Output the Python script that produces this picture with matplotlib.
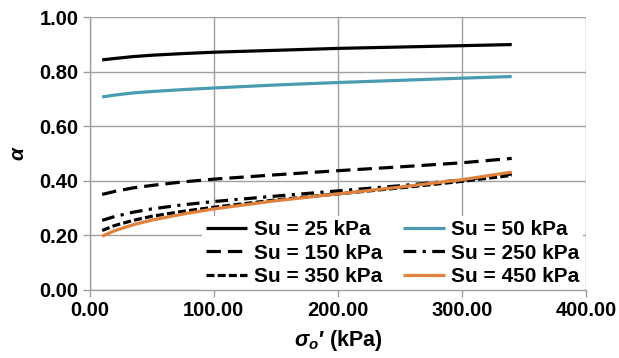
import matplotlib
matplotlib.use("Agg")
import matplotlib.pyplot as plt

plt.rcParams['font.family'] = ['Liberation Sans', 'DejaVu Sans']
plt.rcParams['font.weight'] = 'bold'
plt.rcParams['mathtext.fontset'] = 'custom'
plt.rcParams['mathtext.it'] = 'Liberation Sans:italic:bold'
plt.rcParams['mathtext.rm'] = 'Liberation Sans:bold'

x = [10, 20, 35, 50, 75, 100, 150, 200, 250, 300, 340]
su25 = [0.843, 0.848, 0.855, 0.860, 0.866, 0.871, 0.878, 0.885, 0.890, 0.895, 0.899]
su50 = [0.707, 0.714, 0.722, 0.727, 0.734, 0.740, 0.751, 0.760, 0.768, 0.776, 0.782]
su150 = [0.350, 0.361, 0.374, 0.383, 0.396, 0.406, 0.422, 0.437, 0.451, 0.466, 0.482]
su250 = [0.255, 0.269, 0.285, 0.297, 0.312, 0.324, 0.344, 0.363, 0.382, 0.403, 0.425]
su350 = [0.218, 0.236, 0.255, 0.270, 0.288, 0.303, 0.330, 0.352, 0.374, 0.398, 0.420]
su450 = [0.197, 0.217, 0.239, 0.256, 0.278, 0.297, 0.327, 0.352, 0.377, 0.404, 0.432]
labels = ['Su = 25 kPa', 'Su = 50 kPa', 'Su = 150 kPa', 'Su = 250 kPa', 'Su = 350 kPa', 'Su = 450 kPa']
xticks = [0, 100, 200, 300, 400]
yticks = [0.0, 0.2, 0.4, 0.6, 0.8, 1.0]

fig = plt.figure(figsize=(6.19, 3.58), dpi=100)
ax = fig.add_axes([0.145, 0.19, 0.802, 0.7625])

lw = 2.3
h25, = ax.plot(x, su25, color='black', lw=lw, label=labels[0], solid_capstyle='butt')
h50, = ax.plot(x, su50, color='#4a9bb2', lw=lw, label=labels[1], solid_capstyle='butt')
h150, = ax.plot(x, su150, color='black', lw=lw, ls=(0, (4.5, 2.2)), label=labels[2])
h250, = ax.plot(x, su250, color='black', lw=lw, ls=(0, (4, 2, 1, 2)), label=labels[3])
h350, = ax.plot(x, su350, color='black', lw=lw, ls=(0, (2.5, 1.0)), label=labels[4])
h450, = ax.plot(x, su450, color='#e0823d', lw=lw, label=labels[5], solid_capstyle='butt')

ax.set_xlim(0, 400)
ax.set_ylim(0, 1.0)
ax.set_xticks(xticks)
ax.set_yticks(yticks)
ax.set_xticklabels([f'{v:.2f}' for v in xticks])
ax.set_yticklabels([f'{v:.2f}' for v in yticks])
ax.tick_params(axis='both', labelsize=14.5, direction='out', length=5, color='#a0a0a0', width=1, pad=3)
ax.grid(True, color='#a0a0a0', lw=1)
ax.set_axisbelow(True)
for s in ['top', 'right']:
    ax.spines[s].set_visible(False)
for s in ['left', 'bottom']:
    ax.spines[s].set_color('#a0a0a0')
    ax.spines[s].set_linewidth(1)
    ax.spines[s].set_zorder(10)

ax.set_ylabel(r'$\alpha$', fontsize=15, labelpad=8)
ax.set_xlabel(r'$\sigma_o$' + '′ (kPa)', fontsize=15.5, fontweight='bold', labelpad=6)

hs = [h25, h150, h350, h50, h250, h450]
leg = ax.legend(hs, [h.get_label() for h in hs], loc='lower right', ncol=2, fontsize=15,
                frameon=True, fancybox=False, bbox_to_anchor=(1 - 3 / 496, 0),
                handlelength=2.0, handletextpad=0.3, columnspacing=1.0, labelspacing=0.2,
                borderpad=0.2, borderaxespad=0.0)
leg.get_frame().set_edgecolor('none')
leg.get_frame().set_facecolor('white')
leg.get_frame().set_alpha(1)

fig.savefig('out.png', dpi=100)
